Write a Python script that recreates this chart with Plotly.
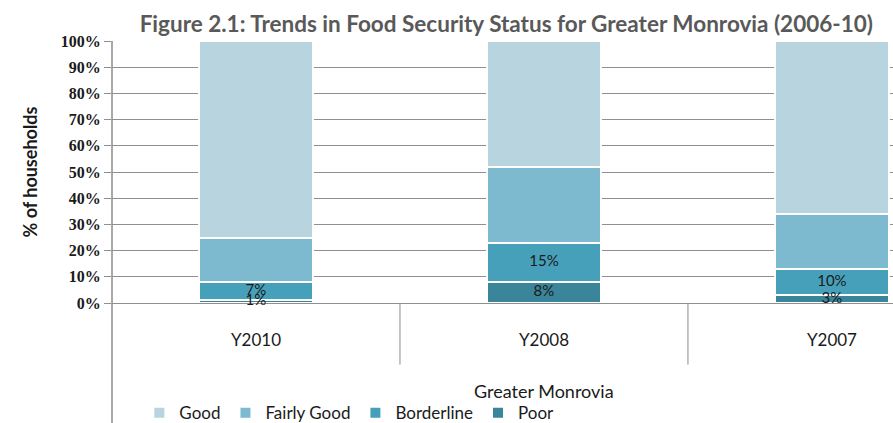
import plotly.graph_objects as go

# Survey rounds and share of households in each food security group
years = ["Y2010", "Y2008", "Y2007"]
poor = [1, 8, 3]
borderline = [7, 15, 10]
fairly_good = [17, 29, 21]
good = [75, 48, 66]

series = [
    ("Poor", poor, "#3A8599"),
    ("Borderline", borderline, "#47A0BA"),
    ("Fairly Good", fairly_good, "#7DB9CF"),
    ("Good", good, "#B7D4DF"),
]

SANS = "Lato, Open Sans, sans-serif"

fig = go.Figure()
for name, vals, color in series:
    fig.add_trace(go.Bar(
        name=name,
        x=years,
        y=vals,
        width=0.396,
        marker=dict(color=color, line=dict(color="white", width=2)),
        hoverinfo="skip",
    ))

# Value labels for the two lowest groups, centred on each stacked segment
label_x, label_y, label_t = [], [], []
for i, yr in enumerate(years):
    label_x += [yr, yr]
    label_y += [poor[i] / 2, poor[i] + borderline[i] / 2]
    label_t += [f"{poor[i]}%", f"{borderline[i]}%"]
fig.add_trace(go.Scatter(
    x=label_x, y=label_y, text=label_t, mode="text",
    textposition="middle center", cliponaxis=False,
    textfont=dict(family=SANS, size=15, color="#1a1a1a"),
    showlegend=False, hoverinfo="skip",
))

# Category dividers below the axis and the long left axis line
for xd in [0.5, 1.5]:
    fig.add_shape(type="line", xref="x", yref="paper", x0=xd, x1=xd,
                  y0=0, y1=-0.235, line=dict(color="#8c8c8c", width=1))
fig.add_shape(type="line", xref="paper", yref="paper", x0=0, x1=0,
              y0=1, y1=-0.46, line=dict(color="#8c8c8c", width=1.5))

fig.add_annotation(text="Greater Monrovia", xref="x", yref="paper",
                   x="Y2008", y=-0.335, yanchor="middle", showarrow=False,
                   font=dict(family=SANS, size=18, color="#1a1a1a"))

fig.update_layout(
    width=893, height=423,
    margin=dict(l=112, r=0, t=41, b=120, autoexpand=False),
    paper_bgcolor="white", plot_bgcolor="white",
    barmode="stack",
    title=dict(
        text="Figure 2.1: Trends in Food Security Status for Greater Monrovia (2006-10)",
        x=0.567, xanchor="center", y=0.943, yanchor="middle",
        font=dict(family=SANS, size=22.5, color="#595959", weight="bold"),
    ),
    xaxis=dict(
        range=[-0.5, 2.212],
        showgrid=False, showline=False, ticks="",
        tickfont=dict(family=SANS, size=17, color="#1a1a1a"),
        ticklabelstandoff=25,
    ),
    yaxis=dict(
        range=[0, 100],
        dtick=10,
        ticksuffix="%",
        showgrid=True, gridcolor="#8f8f8f", gridwidth=1,
        ticks="outside", ticklen=7, tickcolor="#8f8f8f",
        showline=False, zeroline=True, zerolinecolor="#8f8f8f", zerolinewidth=1,
        tickfont=dict(family="Liberation Serif, serif", size=16, color="#1a1a1a", weight="bold"),
        title=dict(text="% of households", standoff=18,
                   font=dict(family=SANS, size=18, color="#1a1a1a", weight="bold")),
    ),
    legend=dict(
        orientation="h", traceorder="reversed",
        x=0.035, xanchor="left", y=-0.352, yanchor="top",
        font=dict(family=SANS, size=17, color="#1a1a1a"),
        itemwidth=30, tracegroupgap=0,
        bgcolor="rgba(0,0,0,0)",
    ),
    showlegend=True,
)

fig.write_html("out.html")
